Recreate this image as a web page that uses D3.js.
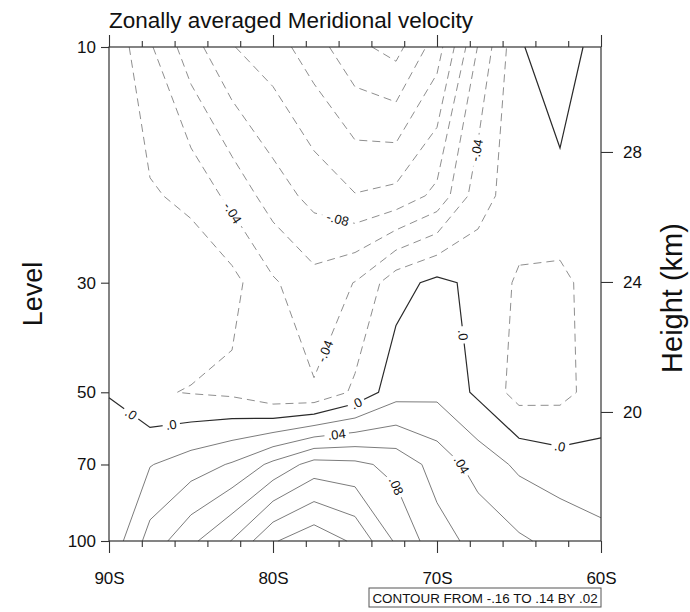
<!DOCTYPE html>
<html><head><meta charset="utf-8">
<script src="https://cdn.jsdelivr.net/npm/d3@7"></script>
<style>body{margin:0;background:#fff}svg{display:block}</style>
</head><body><svg id="c" width="690" height="612"></svg>
<script>
// ---- data ----
const lats = [-90,-87.5,-85,-82.5,-80,-77.5,-75,-72.5,-70,-67.5,-65,-62.5,-60];
const levels = [10,20,30,50,70,100];
const v10  = [-0.003,-0.0375,-0.0717,-0.099,-0.111,-0.131,-0.155,-0.167,-0.130,-0.059,-0.003,0.018,-0.014];
const v20  = [-0.008,-0.0176,-0.025,-0.046,-0.0697,-0.0866,-0.099,-0.094,-0.0745,-0.029,-0.008,-0.0085,-0.010];
const v30  = [-0.008,-0.006,-0.006,-0.0136,-0.0375,-0.053,-0.0393,-0.0076,0.0053,-0.0055,-0.023,-0.024,-0.012];
const v50  = [-0.0005,-0.018,-0.021,-0.024,-0.0366,-0.038,-0.016,0.0119,0.015,-0.00375,-0.028,-0.0263,-0.0106];
const v70  = [0.006,0.019,0.030,0.042,0.065,0.088,0.085,0.0737,0.052,0.032,0.016,0.0088,0.0062];
const v100 = [0.005,0.048,0.0756,0.101,0.138,0.154,0.1365,0.097,0.068,0.0537,0.043,0.034,0.026];
const contourLevels = d3.range(-16, 15, 2).map(d => d / 100);
const xTickLats = [-90,-80,-70,-60];
const xTickLabels = ["90S","80S","70S","60S"];
const yTickLevels = [10,30,50,70,100];
const heightTicks = [20,24,28];
const heightDomain = [16.03,31.23];
const labelLevels = [-0.04,-0.08,-0.04,-0.04,0,0,0,0,0,0.04,0.08,0.04];
const labelLats = [-82.5,-76.1,-76.6,-67.5,-88.7,-86.2,-74.9,-68.5,-62.5,-76.1,-72.6,-68.3];
const labelPs = [21.7,22.6,41.6,16.2,55.6,58.2,52.8,38.3,64.8,61.5,77.7,69.5];

const grid = [v10,v20,v30,v50,v70,v100];

// ---- layout ----
const L = 109, R = 601, T = 47, B = 541;
const svg = d3.select("#c");
const font = "'Liberation Sans', Arial, Helvetica, sans-serif";
const x = d3.scaleLinear().domain([-90,-60]).range([L,R]);
const y = d3.scaleLog().domain([10,100]).range([T,B]);
const h = d3.scaleLinear().domain(heightDomain).range([B,T]);

// ---- marching squares to polylines ----
function isoLines(vals, level) {
  const ny = vals.length, nx = vals[0].length;
  const pts = new Map(), adj = new Map();
  const above = v => v >= level;
  function crossH(i,j){ const a=vals[j][i], b=vals[j][i+1]; if (above(a)===above(b)) return null;
    const k='h'+i+'_'+j; if(!pts.has(k)) pts.set(k,[i+(level-a)/(b-a), j]); return k; }
  function crossV(i,j){ const a=vals[j][i], b=vals[j+1][i]; if (above(a)===above(b)) return null;
    const k='v'+i+'_'+j; if(!pts.has(k)) pts.set(k,[i, j+(level-a)/(b-a)]); return k; }
  function link(a,b){ if(!adj.has(a)) adj.set(a,[]); if(!adj.has(b)) adj.set(b,[]); adj.get(a).push(b); adj.get(b).push(a); }
  for (let j=0;j<ny-1;j++) for (let i=0;i<nx-1;i++) {
    const top=crossH(i,j), right=crossV(i+1,j), bottom=crossH(i,j+1), left=crossV(i,j);
    const e=[top,right,bottom,left].filter(d=>d);
    if (e.length===2) link(e[0],e[1]);
    else if (e.length===4) {
      const c=(vals[j][i]+vals[j][i+1]+vals[j+1][i]+vals[j+1][i+1])/4;
      if (above(c)===above(vals[j][i])) { link(top,right); link(bottom,left); }
      else { link(top,left); link(right,bottom); }
    }
  }
  const used = new Set(), lines = [];
  function walk(start){
    const line=[start]; used.add(start); let cur=start;
    while (true) { const nxt=(adj.get(cur)||[]).find(n=>!used.has(n)); if(!nxt) break; used.add(nxt); line.push(nxt); cur=nxt; }
    const nb=adj.get(start)||[]; if (line.length>2 && nb.includes(cur)) line.push(start);
    return line;
  }
  for (const [k,n] of adj) if (n.length===1 && !used.has(k)) lines.push(walk(k));
  for (const [k] of adj) if (!used.has(k)) lines.push(walk(k));
  return lines.map(l=>l.map(k=>toPix(pts.get(k))));
}
function toPix([fi,fj]) {
  const i0=Math.min(Math.floor(fi),lats.length-2), ti=fi-i0;
  const j0=Math.min(Math.floor(fj),levels.length-2), tj=fj-j0;
  const px = x(lats[i0]) + ti*(x(lats[i0+1])-x(lats[i0]));
  const py = y(levels[j0]) + tj*(y(levels[j0+1])-y(levels[j0]));
  return [px,py];
}

const lineGen = d3.line();
const gC = svg.append("g");
const byLevel = new Map();
contourLevels.forEach(lv => {
  const lines = isoLines(grid, lv);
  byLevel.set(lv.toFixed(2), lines);
  const zero = Math.abs(lv) < 1e-9;
  lines.forEach(l => {
    gC.append("path").attr("d", lineGen(l)).attr("fill","none")
      .attr("stroke", zero ? "#2a2a2a" : (lv<0 ? "#8f8f8f" : "#7c7c7c"))
      .attr("stroke-width", zero ? 1.2 : 1)
      .attr("stroke-dasharray", lv<0 ? "8,5" : null);
  });
});

// ---- contour labels ----
function fmt(v){ if (Math.abs(v)<1e-9) return ".0"; let s=v.toFixed(2).replace(/0+$/,''); return s.replace(/^(-?)0\./,'$1.'); }
const gL = svg.append("g");
labelLevels.forEach((lv,k) => {
  const lines = byLevel.get(lv.toFixed(2)) || [];
  const hx = x(labelLats[k]), hy = y(labelPs[k]);
  let best=null;
  lines.forEach(l => { for (let m=0;m<l.length-1;m++){
    const [ax,ay]=l[m],[bx,by]=l[m+1]; const dx=bx-ax, dy=by-ay; const L2=dx*dx+dy*dy||1;
    let t=((hx-ax)*dx+(hy-ay)*dy)/L2; t=Math.max(0,Math.min(1,t));
    const px=ax+t*dx, py=ay+t*dy, d=(px-hx)**2+(py-hy)**2;
    if(!best||d<best.d) best={d,px,py,ang:Math.atan2(dy,dx)*180/Math.PI};
  }});
  if(!best) return;
  let a=best.ang; if (a>90) a-=180; if (a<=-90) a+=180;
  const txt = fmt(lv);
  const g = gL.append("g").attr("transform",`translate(${best.px},${best.py}) rotate(${a})`);
  const w = txt.length*7.2+3;
  g.append("rect").attr("x",-w/2).attr("y",-6.5).attr("width",w).attr("height",13).attr("fill","#fff");
  g.append("text").text(txt).attr("text-anchor","middle").attr("dy","0.36em")
    .attr("font-family",font).attr("font-size",13).attr("fill","#111");
});

// ---- frame and axes ----
svg.append("rect").attr("x",L).attr("y",T).attr("width",R-L).attr("height",B-T)
  .attr("fill","none").attr("stroke","#333").attr("stroke-width",1.2);
const minor = d3.range(-90,-59,2).filter(d=>d%10!==0);
function styleAxis(g){ g.select(".domain").remove(); g.selectAll("line").attr("stroke","#333").attr("stroke-width",1.1);
  g.selectAll("text").attr("font-family",font).attr("fill","#111"); }
svg.append("g").attr("transform",`translate(0,${B})`)
  .call(d3.axisBottom(x).tickValues(xTickLats).tickSize(12).tickPadding(19).tickFormat((d,i)=>xTickLabels[i]))
  .call(styleAxis).selectAll("text").attr("font-size",17);
svg.append("g").attr("transform",`translate(0,${B})`)
  .call(d3.axisBottom(x).tickValues(minor).tickSize(6).tickFormat("")).call(styleAxis);
svg.append("g").attr("transform",`translate(0,${T})`)
  .call(d3.axisTop(x).tickValues(xTickLats).tickSize(12).tickFormat("")).call(styleAxis);
svg.append("g").attr("transform",`translate(0,${T})`)
  .call(d3.axisTop(x).tickValues(minor).tickSize(6).tickFormat("")).call(styleAxis);
svg.append("g").attr("transform",`translate(${L},0)`)
  .call(d3.axisLeft(y).tickValues(yTickLevels).tickSize(8).tickPadding(5).tickFormat(d3.format("d")))
  .call(styleAxis).selectAll("text").attr("font-size",17);
svg.append("g").attr("transform",`translate(${R},0)`)
  .call(d3.axisRight(h).tickValues(heightTicks).tickSize(12).tickPadding(10).tickFormat(d3.format("d")))
  .call(styleAxis).selectAll("text").attr("font-size",17);

// ---- titles ----
svg.append("text").text("Zonally averaged Meridional velocity").attr("x",L).attr("y",28)
  .attr("font-family",font).attr("font-size",22.5).attr("fill","#111");
svg.append("text").text("Level").attr("transform",`translate(42,294) rotate(-90)`)
  .attr("text-anchor","middle").attr("font-family",font).attr("font-size",27).attr("fill","#111");
svg.append("text").text("Height (km)").attr("transform",`translate(682,298) rotate(-90)`)
  .attr("text-anchor","middle").attr("font-family",font).attr("font-size",29).attr("fill","#111");
// info box
const info = svg.append("g");
info.append("rect").attr("x",369).attr("y",588).attr("width",R-369).attr("height",19)
  .attr("fill","#fff").attr("stroke","#555").attr("stroke-width",1);
info.append("text").text("CONTOUR FROM -.16 TO .14 BY .02").attr("x",(369+R)/2).attr("y",602.5)
  .attr("text-anchor","middle").attr("font-family",font).attr("font-size",13.4).attr("fill","#111");
</script></body></html>
